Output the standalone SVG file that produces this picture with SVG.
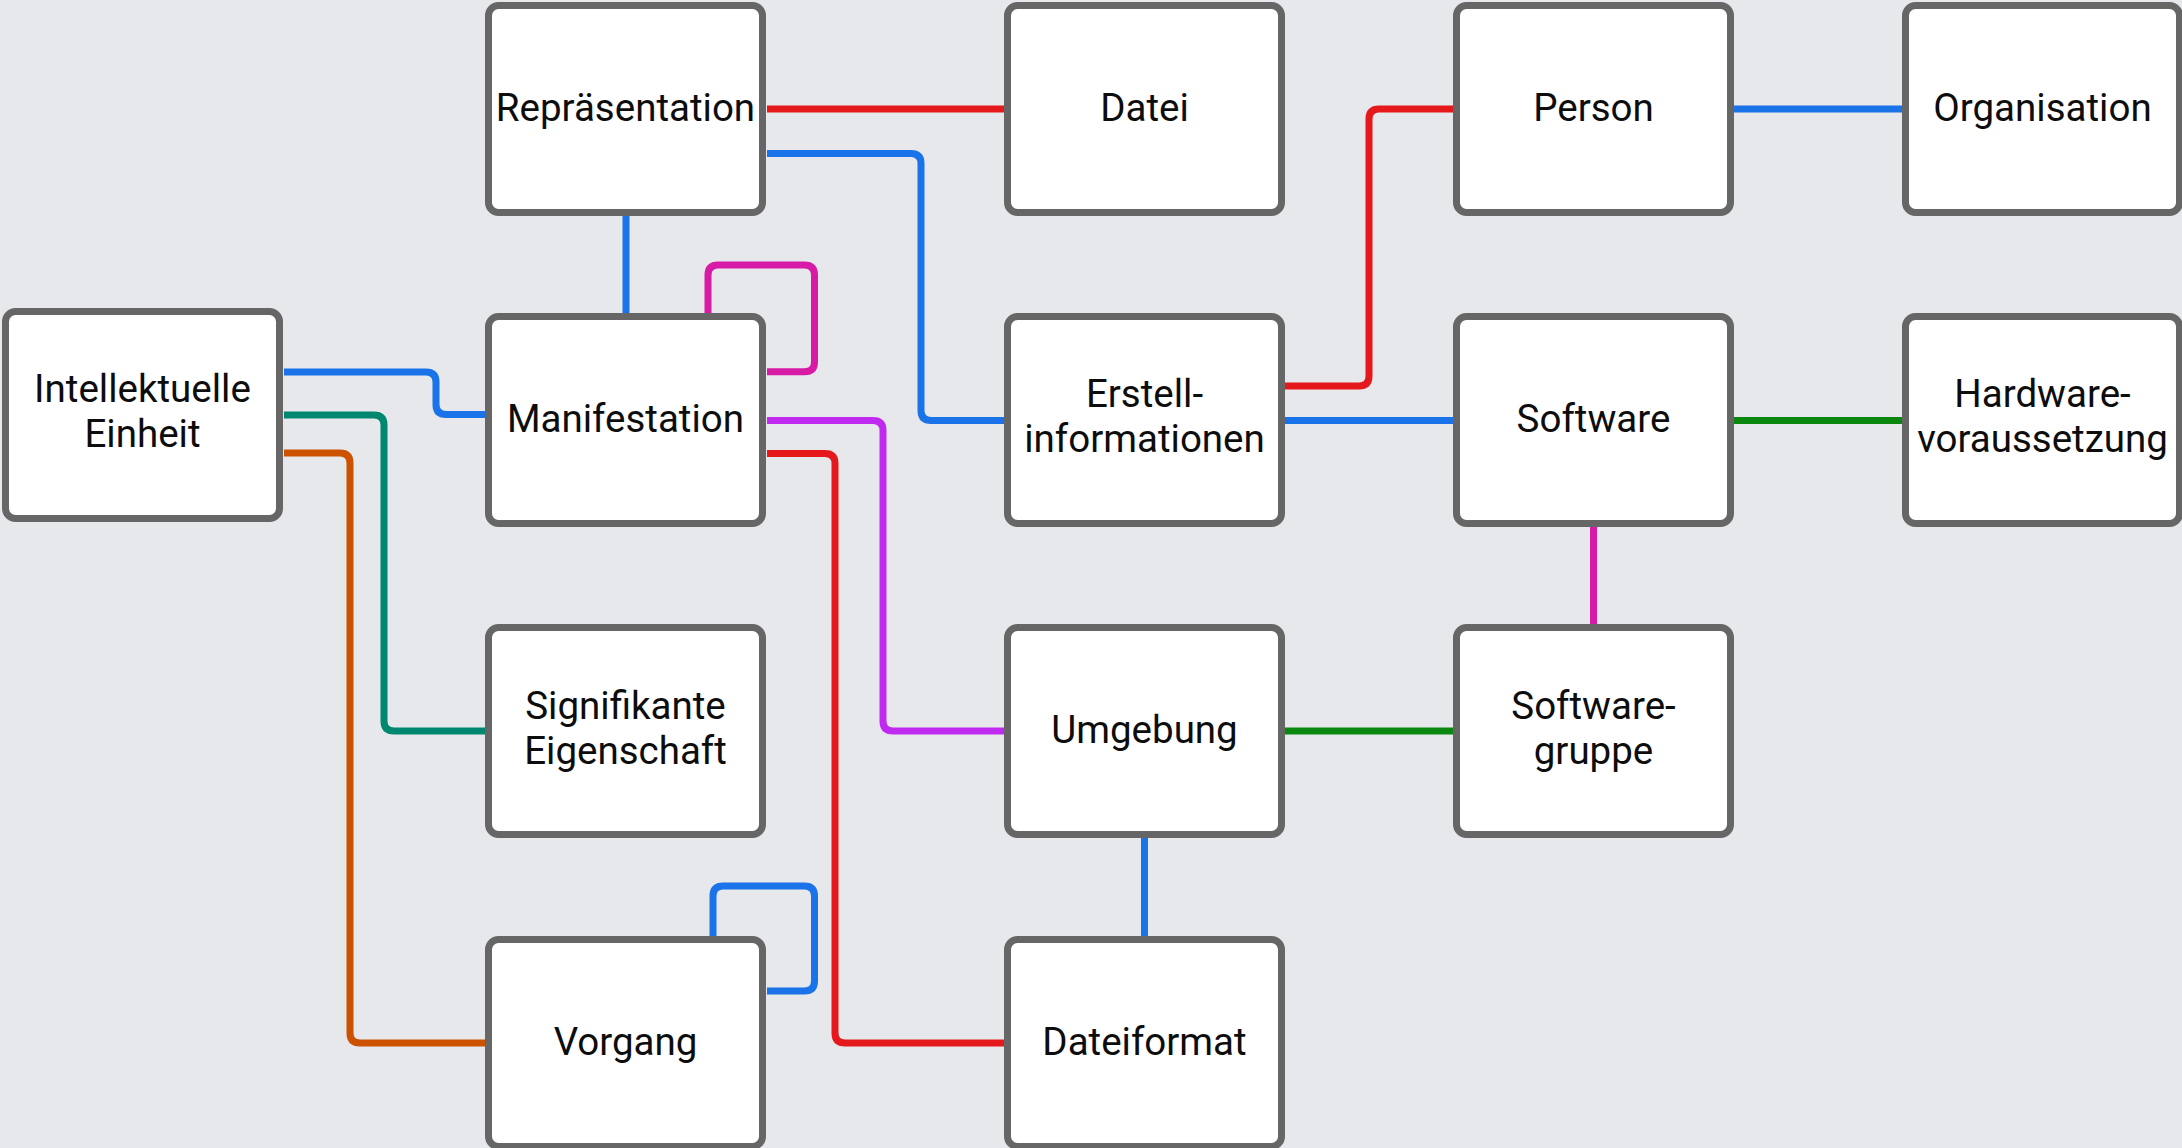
<svg xmlns="http://www.w3.org/2000/svg" width="2182" height="1148" viewBox="0 0 2182 1148">
<style>
.bg{fill:#e6e8ec}
.box{fill:#ffffff;stroke:#666666;stroke-width:7}
.lbl{font-family:Roboto,"Liberation Sans",sans-serif;font-size:38.5px;fill:#0d0d0d;text-anchor:middle}
.c{fill:none;stroke-width:7;stroke-linejoin:round}
.blue{stroke:#1a73e8}
.red{stroke:#e5191b}
.mag{stroke:#d81ba6}
.pur{stroke:#c02af0}
.teal{stroke:#00876f}
.orange{stroke:#cc5200}
.green{stroke:#0a870f}
</style>
<rect class="bg" x="0" y="0" width="2182" height="1148"/>
<g id="connectors">
<path class="c red" d="M 767 109 H 1004"/>
<path class="c blue" d="M 767 153.5 H 911 Q 921 153.5 921 163.5 V 410.5 Q 921 420.5 931 420.5 H 1004"/>
<path class="c blue" d="M 626 216 V 313"/>
<path class="c mag" d="M 708 313 V 275 Q 708 265 718 265 H 804.5 Q 814.5 265 814.5 275 V 361.7 Q 814.5 371.7 804.5 371.7 H 767"/>
<path class="c blue" d="M 284 372 H 426 Q 436 372 436 382 V 404.5 Q 436 414.5 446 414.5 H 485"/>
<path class="c teal" d="M 284 415 H 374 Q 384 415 384 425 V 721 Q 384 731 394 731 H 485"/>
<path class="c orange" d="M 284 453 H 340 Q 350 453 350 463 V 1033 Q 350 1043 360 1043 H 485"/>
<path class="c pur" d="M 767 420.5 H 873 Q 883 420.5 883 430.5 V 721 Q 883 731 893 731 H 1004"/>
<path class="c red" d="M 767 453.5 H 825 Q 835 453.5 835 463.5 V 1033 Q 835 1043 845 1043 H 1004"/>
<path class="c blue" d="M 713 936 V 896 Q 713 886 723 886 H 804.5 Q 814.5 886 814.5 896 V 981 Q 814.5 991 804.5 991 H 767"/>
<path class="c blue" d="M 1144.5 838 V 936"/>
<path class="c green" d="M 1285 731 H 1453"/>
<path class="c red" d="M 1285 386 H 1359 Q 1369 386 1369 376 V 119 Q 1369 109 1379 109 H 1453"/>
<path class="c blue" d="M 1285 420.5 H 1453"/>
<path class="c blue" d="M 1734 109 H 1902"/>
<path class="c green" d="M 1734 420.5 H 1902"/>
<path class="c mag" d="M 1593.5 527 V 624"/>
</g>
<g id="n-repraesentation"><rect class="box" x="488.5" y="5.5" width="274" height="207" rx="10"/><text class="lbl" x="625.5" y="120.5">Repräsentation</text></g>
<g id="n-datei"><rect class="box" x="1007.5" y="5.5" width="274" height="207" rx="10"/><text class="lbl" x="1144.5" y="120.5">Datei</text></g>
<g id="n-person"><rect class="box" x="1456.5" y="5.5" width="274" height="207" rx="10"/><text class="lbl" x="1593.5" y="120.5">Person</text></g>
<g id="n-organisation"><rect class="box" x="1905.5" y="5.5" width="274" height="207" rx="10"/><text class="lbl" x="2042.5" y="120.5">Organisation</text></g>
<g id="n-intellektuelle-einheit"><rect class="box" x="5.5" y="311.5" width="274" height="207" rx="10"/><text class="lbl" x="142.5" y="402">Intellektuelle</text><text class="lbl" x="142.5" y="446.5">Einheit</text></g>
<g id="n-manifestation"><rect class="box" x="488.5" y="316.5" width="274" height="207" rx="10"/><text class="lbl" x="625.5" y="431.5">Manifestation</text></g>
<g id="n-erstellinformationen"><rect class="box" x="1007.5" y="316.5" width="274" height="207" rx="10"/><text class="lbl" x="1144.5" y="407">Erstell-</text><text class="lbl" x="1144.5" y="451.5">informationen</text></g>
<g id="n-software"><rect class="box" x="1456.5" y="316.5" width="274" height="207" rx="10"/><text class="lbl" x="1593.5" y="431.5">Software</text></g>
<g id="n-hardwarevoraussetzung"><rect class="box" x="1905.5" y="316.5" width="274" height="207" rx="10"/><text class="lbl" x="2042.5" y="407">Hardware-</text><text class="lbl" x="2042.5" y="451.5">voraussetzung</text></g>
<g id="n-signifikante-eigenschaft"><rect class="box" x="488.5" y="627.5" width="274" height="207" rx="10"/><text class="lbl" x="625.5" y="719">Signifikante</text><text class="lbl" x="625.5" y="763.5">Eigenschaft</text></g>
<g id="n-umgebung"><rect class="box" x="1007.5" y="627.5" width="274" height="207" rx="10"/><text class="lbl" x="1144.5" y="742.5">Umgebung</text></g>
<g id="n-softwaregruppe"><rect class="box" x="1456.5" y="627.5" width="274" height="207" rx="10"/><text class="lbl" x="1593.5" y="719">Software-</text><text class="lbl" x="1593.5" y="763.5">gruppe</text></g>
<g id="n-vorgang"><rect class="box" x="488.5" y="939.5" width="274" height="207" rx="10"/><text class="lbl" x="625.5" y="1054.5">Vorgang</text></g>
<g id="n-dateiformat"><rect class="box" x="1007.5" y="939.5" width="274" height="207" rx="10"/><text class="lbl" x="1144.5" y="1054.5">Dateiformat</text></g>
</svg>
